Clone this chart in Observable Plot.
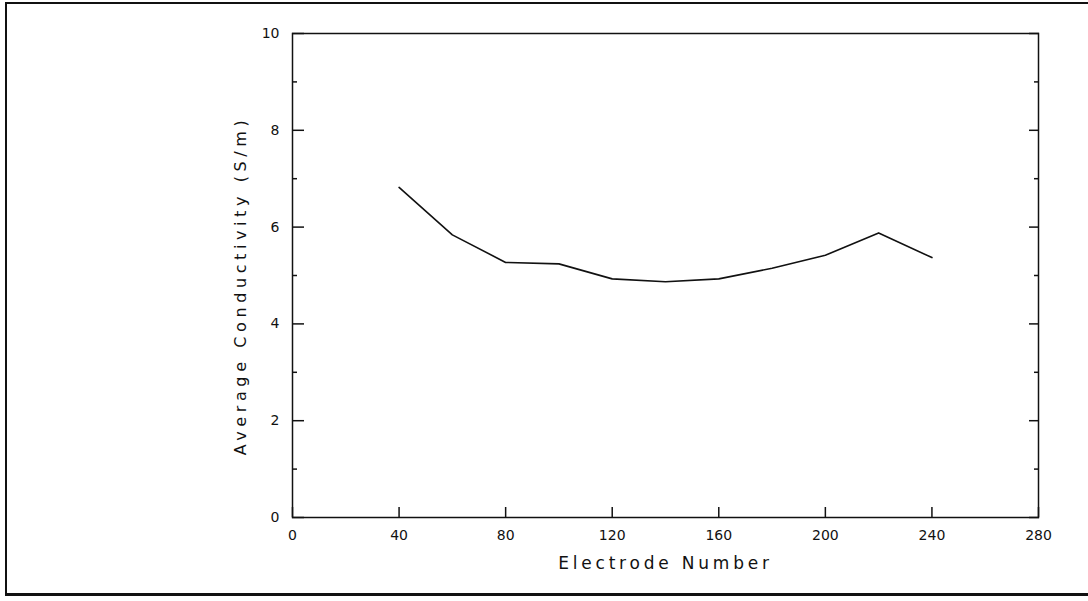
<!DOCTYPE html>
<html>
<head>
<meta charset="utf-8">
<script src="https://cdn.jsdelivr.net/npm/d3@7"></script>
<script src="https://cdn.jsdelivr.net/npm/@observablehq/plot@0.6"></script>
<style>
  html, body { margin: 0; padding: 0; background: #fff; }
  #wrap { position: relative; width: 1088px; height: 601px; overflow: hidden; }
  #border { position: absolute; left: 5px; top: 2px; width: 1090px; height: 594px;
            border-left: 2.5px solid #111; border-top: 2.5px solid #111; border-bottom: 3px solid #111; box-sizing: border-box; }
  #chart { position: absolute; left: 0; top: 0; }
</style>
</head>
<body>
<div id="wrap">
  <div id="chart"></div>
  <div id="border"></div>
</div>
<script>
// Data
const electrode = [40, 60, 80, 100, 120, 140, 160, 180, 200, 220, 240];
const conductivity = [6.82, 5.84, 5.27, 5.24, 4.93, 4.87, 4.93, 5.15, 5.42, 5.88, 5.37];

const xTicks = [0, 40, 80, 120, 160, 200, 240, 280];
const xTickLabels = ["0", "40", "80", "120", "160", "200", "240", "280"];
const yMajor = [0, 2, 4, 6, 8, 10];
const yMinor = [1, 3, 5, 7, 9];
const xLabel = "Electrode Number";
const yLabel = "Average Conductivity (S/m)";

const data = electrode.map((e, i) => ({e, c: conductivity[i]}));

const font = "'DejaVu Sans', 'Liberation Sans', sans-serif";

const chart = Plot.plot({
  width: 1088,
  height: 601,
  marginLeft: 292,
  marginRight: 50,
  marginTop: 33,
  marginBottom: 84,
  style: {fontFamily: font, fontSize: "14px", color: "#111", background: "transparent"},
  x: {domain: [0, 280]},
  y: {domain: [0, 10]},
  marks: [
    Plot.frame({stroke: "#111", strokeWidth: 1.5}),
    // bottom ticks (inward)
    Plot.axisX({anchor: "bottom", ticks: xTicks, tickSize: -10, tickFormat: () => "", label: null, strokeWidth: 1.5}),
    // bottom tick labels
    Plot.axisX({anchor: "bottom", ticks: xTicks, tickSize: 0, tickPadding: 13, tickFormat: d => xTickLabels[xTicks.indexOf(d)], label: null, fontSize: 14, fontWeight: 500}),
    // left major / minor ticks
    Plot.axisY({anchor: "left", ticks: yMajor, tickSize: -12, tickFormat: () => "", label: null, strokeWidth: 1.5}),
    Plot.axisY({anchor: "left", ticks: yMinor, tickSize: -5, tickFormat: () => "", label: null, strokeWidth: 1.5}),
    Plot.axisY({anchor: "left", ticks: yMajor, tickSize: 0, tickPadding: 13, label: null, fontSize: 14, fontWeight: 500}),
    // right major / minor ticks
    Plot.axisY({anchor: "right", ticks: yMajor, tickSize: -10, tickFormat: () => "", label: null, strokeWidth: 1.5}),
    Plot.axisY({anchor: "right", ticks: yMinor, tickSize: -5, tickFormat: () => "", label: null, strokeWidth: 1.5}),
    // axis titles
    Plot.text([xLabel], {frameAnchor: "bottom", textAnchor: "middle", dy: 51, fontSize: 17, fill: "#111", text: d => d}),
    Plot.text([yLabel], {frameAnchor: "left", textAnchor: "middle", dx: -52, dy: 10, rotate: -90, fontSize: 16, fill: "#111", text: d => d}),
    // data line
    Plot.line(data, {x: "e", y: "c", stroke: "#111", strokeWidth: 1.6})
  ]
});

document.getElementById("chart").appendChild(chart);

// letter spacing for the plotter-style titles
const svg = d3.select(chart);
svg.selectAll("text").filter(function() { return this.textContent === xLabel; })
  .style("letter-spacing", "3.8px");
svg.selectAll("text").filter(function() { return this.textContent === yLabel; })
  .style("letter-spacing", "4.6px");
</script>
</body>
</html>
